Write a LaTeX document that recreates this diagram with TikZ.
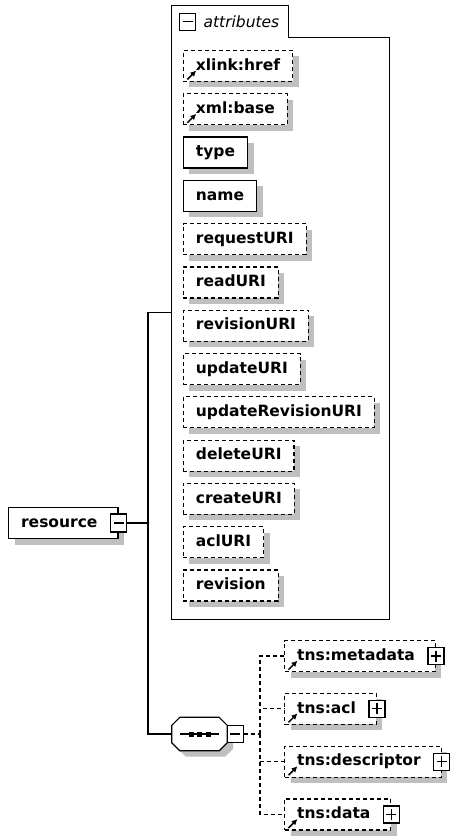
\documentclass[tikz,border=0pt]{standalone}
\usepackage{fontspec}
\setmainfont{DejaVu Sans}
\usetikzlibrary{arrows.meta,positioning,shadows}
\tikzstyle{shadowed} = [drop shadow={shadow xshift=6pt, shadow yshift=-6pt, fill=black!25, opacity=1}]
\tikzstyle{attrbox} = [rectangle, draw, line width=1.2pt, fill=white, shadowed,
    font=\fontsize{15.5pt}{18pt}\selectfont\bfseries, minimum height=31pt,
    inner xsep=12.5pt, text height=11.5pt, text depth=3pt]
\tikzstyle{optattr} = [attrbox, dash pattern=on 4pt off 3pt]
\tikzstyle{signgap} = [execute at end node={\hspace*{8pt}}]
\tikzstyle{elemref} = [optattr, signgap]
\tikzstyle{conn} = [draw, line width=1.2pt]
\tikzstyle{dashconn} = [conn, dash pattern=on 4pt off 3pt]
\tikzstyle{refmark} = [draw, line width=1.5pt, -{Latex[length=6pt,width=6pt]}]
\tikzstyle{signbox} = [rectangle, draw, line width=1.2pt, fill=white,
    minimum width=16pt, minimum height=17pt, inner sep=0pt]
\tikzstyle{minusbox} = [signbox, path picture={
    \draw[line width=1.2pt] ([xshift=3pt]path picture bounding box.west)
      -- ([xshift=-3pt]path picture bounding box.east);}]
\tikzstyle{plusbox} = [signbox, path picture={
    \draw[line width=1.2pt] ([xshift=3pt]path picture bounding box.west)
      -- ([xshift=-3pt]path picture bounding box.east);
    \draw[line width=1.2pt] ([yshift=-3pt]path picture bounding box.north)
      -- ([yshift=3pt]path picture bounding box.south);}]
\tikzstyle{sequence} = [rectangle, minimum width=55pt, minimum height=33pt, inner sep=0pt]

\begin{document}
\begin{tikzpicture}[x=1pt, y=-1pt, node distance=11.1pt]
        \useasboundingbox (0,0) rectangle (453,837);
        % Place nodes
        \node [minimum width=217pt, minimum height=613pt, inner sep=0pt] (attrs) at (280.5,312.5) {};
        \path [conn] (attrs.north west) -- ++(117,0) |- ([yshift=-32pt]attrs.north east)
            -- (attrs.south east) -- (attrs.south west) -- cycle;
        \node [minusbox] (attrmin) at ([shift={(16,16)}]attrs.north west) {};
        \node [right=6pt of attrmin, inner sep=1pt, font=\fontsize{15.5pt}{18pt}\selectfont\itshape] (attrlbl) {attributes};
        \node [optattr, anchor=north west] (xlink) at ([shift={(11,44)}]attrs.north west) {xlink:href};
        \node [optattr, below=of xlink.south west, anchor=north west] (xmlbase) {xml:base};
        \node [attrbox, below=of xmlbase.south west, anchor=north west] (type) {type};
        \node [attrbox, below=of type.south west, anchor=north west] (name) {name};
        \node [optattr, below=of name.south west, anchor=north west] (request) {requestURI};
        \node [optattr, below=of request.south west, anchor=north west] (read) {readURI};
        \node [optattr, below=of read.south west, anchor=north west] (revuri) {revisionURI};
        \node [optattr, below=of revuri.south west, anchor=north west] (update) {updateURI};
        \node [optattr, below=of update.south west, anchor=north west] (updrev) {updateRevisionURI};
        \node [optattr, below=of updrev.south west, anchor=north west] (delete) {deleteURI};
        \node [optattr, below=of delete.south west, anchor=north west] (create) {createURI};
        \node [optattr, below=of create.south west, anchor=north west] (acluri) {aclURI};
        \node [optattr, below=of acluri.south west, anchor=north west] (revision) {revision};
        \node [attrbox, signgap, anchor=west] (resource) at (8,523) {resource};
        \node [minusbox, minimum height=18pt] (resmin) at (resource.east) {};
        % sequence compositor
        \node [sequence] (seq) at (199.5,734) {};
        \path [conn, fill=white, shadowed] ([xshift=8pt]seq.north west) -- ([xshift=-8pt]seq.north east)
            -- ([yshift=-8pt]seq.north east) -- ([yshift=8pt]seq.south east)
            -- ([xshift=-8pt]seq.south east) -- ([xshift=8pt]seq.south west)
            -- ([yshift=8pt]seq.south west) -- ([yshift=-8pt]seq.north west) -- cycle;
        \path [conn] ([xshift=8pt]seq.west) -- ([xshift=-8pt]seq.east);
        \foreach \d in {-8.5,0,8.5}
            \fill ([xshift=\d pt]seq.center) +(-2.5,-2.5) rectangle +(2.5,2.5);
        \node [minusbox, anchor=west] (seqmin) at ([xshift=-0.6pt]seq.east) {};
        \node [elemref, anchor=west] (meta) at (284,656) {tns:metadata};
        \node [elemref, below=20.6pt of meta.south west, anchor=north west] (acl) {tns:acl};
        \node [elemref, below=20.6pt of acl.south west, anchor=north west] (desc) {tns:descriptor};
        \node [elemref, below=20.6pt of desc.south west, anchor=north west] (data) {tns:data};
        \foreach \n in {meta,acl,desc,data}
            \node [plusbox] (\n-plus) at (\n.east) {};
        \foreach \n in {xlink,xmlbase,meta,acl,desc,data}
            \path [refmark] ([shift={(4.5,-2.5)}]\n.south west) -- ++(9,-9);
        % Draw edges
        \coordinate (trunk) at (148,523);
        \coordinate (fork) at (260,734);
        \path [conn] (resmin) -- (trunk);
        \path [conn] (trunk) |- (attrs.west);
        \path [conn] (trunk) |- (seq.west);
        \path [dashconn] (seqmin) -- (fork);
        \foreach \n in {meta,acl,desc,data}
            \path [dashconn] (fork) |- (\n.west);
    \end{tikzpicture}
\end{document}
